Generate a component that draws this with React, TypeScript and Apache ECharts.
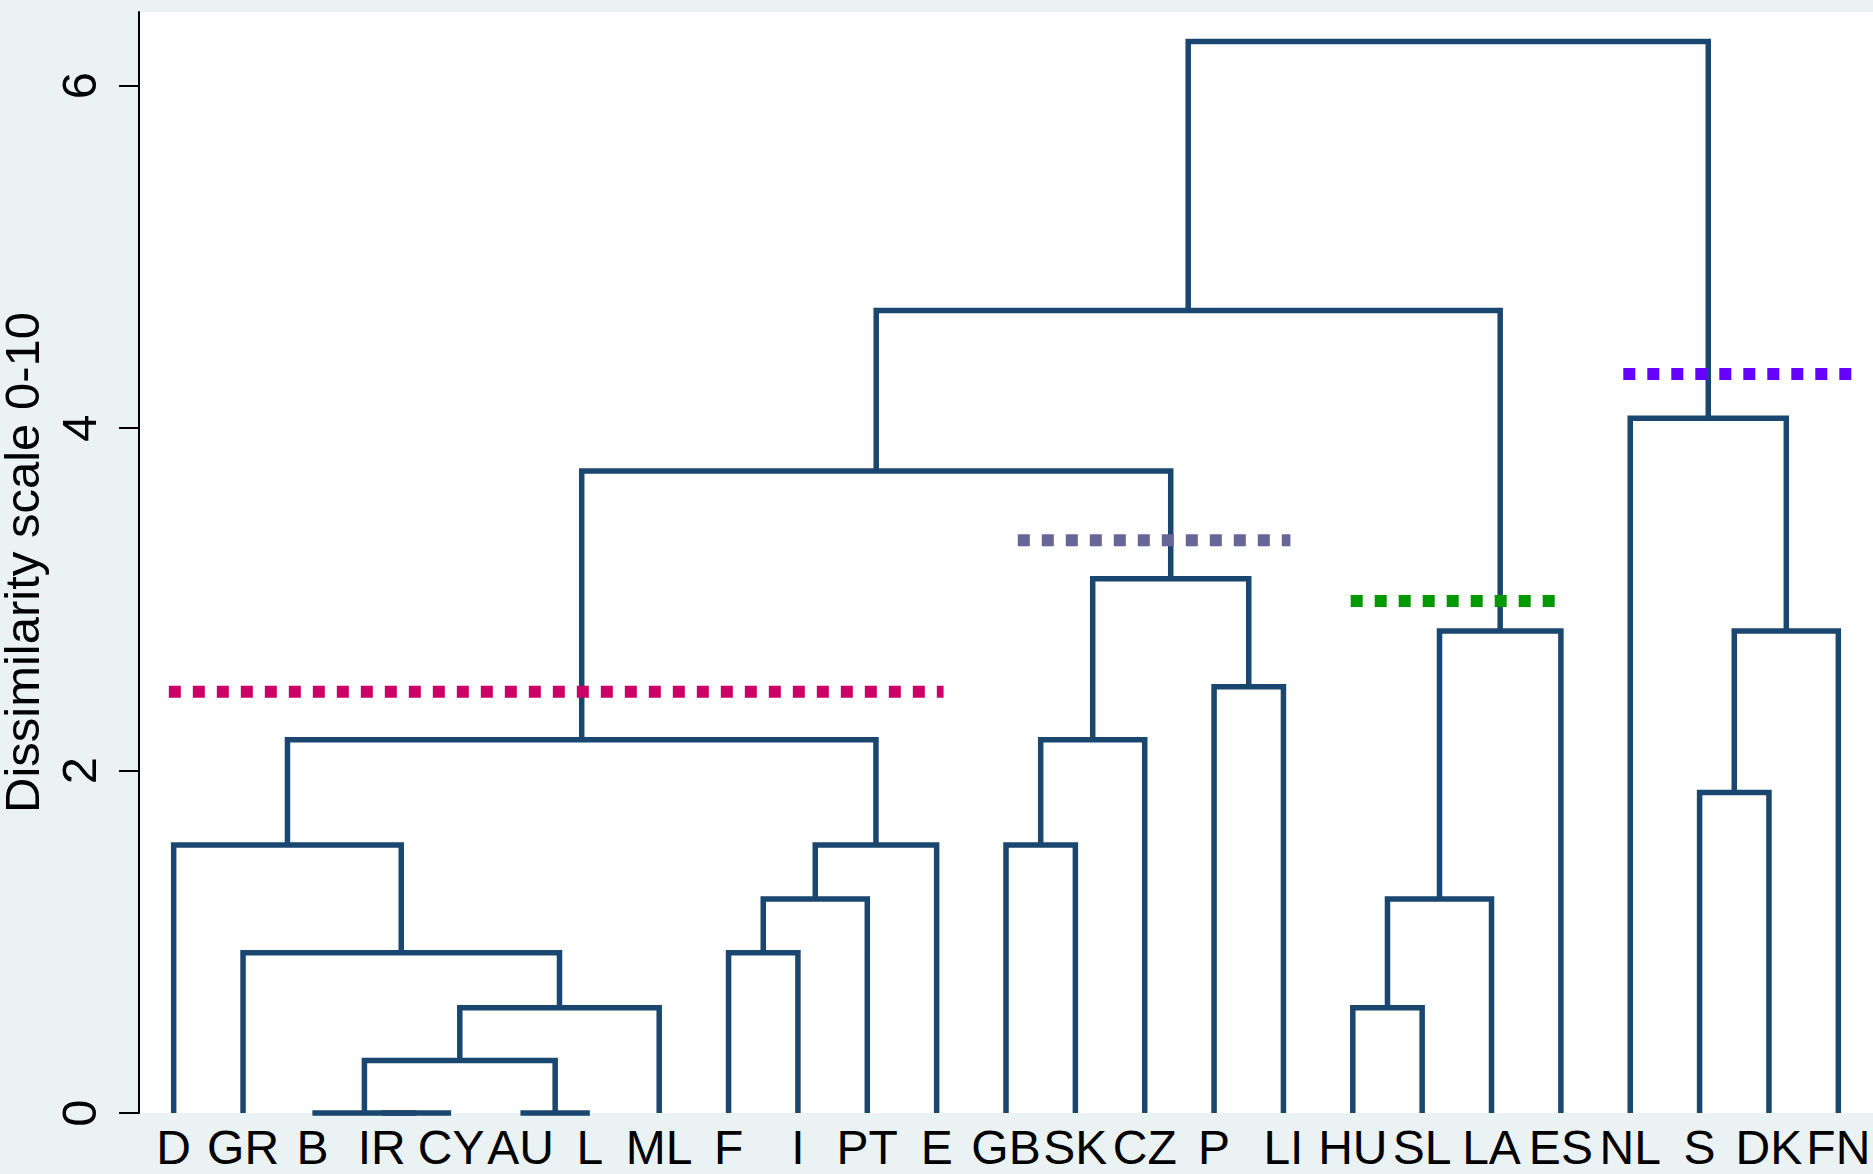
import React, { useEffect, useRef } from "react";
import * as echarts from "echarts";

// Leaf labels (left to right)
const leaves = ["D", "GR", "B", "IR", "CY", "AU", "L", "ML", "F", "I", "PT", "E", "GB", "SK", "CZ", "P", "LI", "HU", "SL", "LA", "ES", "NL", "S", "DK", "FN"];

// Merges: child ids (0..24 leaves, 25+k = k-th merge) and dissimilarity height
const mergeLeft = [3, 2, 5, 26, 28, 1, 0, 8, 32, 33, 31, 12, 36, 15, 37, 35, 17, 41, 42, 40, 22, 45, 21, 44];
const mergeRight = [4, 25, 6, 27, 7, 29, 30, 9, 10, 11, 34, 13, 14, 16, 38, 39, 18, 19, 20, 43, 23, 24, 46, 47];
const mergeHeight = [0, 0, 0, 0.307, 0.615, 0.936, 1.565, 0.936, 1.25, 1.565, 2.18, 1.565, 2.18, 2.49, 3.12, 3.75, 0.615, 1.25, 2.815, 4.687, 1.872, 2.815, 4.058, 6.258];

// Cut lines (dotted): height and span in leaf units
const cutHeight = [2.46, 3.345, 2.99, 4.316];
const cutFrom = [-0.07, 12.17, 16.97, 20.9];
const cutTo = [11.1, 16.1, 19.93, 24.2];
const cutColor = ["#CC0066", "#666699", "#009900", "#6600FF"];

const yTicks = { min: 0, max: 6.43, interval: 2 };

const FONT = "Liberation Sans, Arial, sans-serif";

export default function App() {
  const ref = useRef<HTMLDivElement>(null);
  useEffect(() => {
    if (!ref.current) return;
    const chart = echarts.init(ref.current, undefined, { renderer: "svg" });
    const n = leaves.length;
    const nodeX: number[] = leaves.map((_, i) => i);
    const nodeH: number[] = leaves.map(() => 0);
    const series: any[] = [];
    mergeHeight.forEach((h, k) => {
      const a = mergeLeft[k];
      const b = mergeRight[k];
      const xa = nodeX[a];
      const xb = nodeX[b];
      nodeX[n + k] = (xa + xb) / 2;
      nodeH[n + k] = h;
      series.push({
        type: "line",
        xAxisIndex: 1,
        symbol: "none",
        clip: false,
        silent: true,
        z: 2,
        lineStyle: { color: "#1A476F", width: 5.5, join: "miter", cap: "butt" },
        data: [
          [xa, nodeH[a]],
          [xa, h],
          [xb, h],
          [xb, nodeH[b]],
        ],
      });
    });
    cutHeight.forEach((h, i) => {
      series.push({
        type: "line",
        xAxisIndex: 1,
        symbol: "none",
        clip: false,
        silent: true,
        z: 3,
        lineStyle: { color: cutColor[i], width: 12, type: [12, 12], cap: "butt" },
        data: [
          [cutFrom[i], h],
          [cutTo[i], h],
        ],
      });
    });
    chart.setOption({
      animation: false,
      backgroundColor: "#EAF2F3",
      textStyle: { fontFamily: FONT },
      grid: {
        left: 139,
        right: 0,
        top: 12,
        bottom: 61,
        containLabel: false,
        outerBoundsMode: "none",
        show: true,
        backgroundColor: "#ffffff",
        borderWidth: 0,
      },
      xAxis: [
        {
          type: "category",
          data: leaves,
          boundaryGap: true,
          axisLine: { show: false },
          axisTick: { show: false },
          splitLine: { show: false },
          axisLabel: {
            interval: 0,
            hideOverlap: false,
            fontSize: 48,
            lineHeight: 44,
            color: "#000",
            margin: 12,
            fontFamily: FONT,
          },
        },
        {
          type: "value",
          min: -0.5,
          max: leaves.length - 0.5,
          show: false,
        },
      ],
      yAxis: {
        type: "value",
        min: yTicks.min,
        max: yTicks.max,
        interval: yTicks.interval,
        name: "Dissimilarity scale 0-10",
        nameLocation: "middle",
        nameRotate: 90,
        nameGap: 86,
        nameTextStyle: { fontSize: 49, lineHeight: 40, color: "#000", fontFamily: FONT },
        axisLine: { show: true, onZero: false, lineStyle: { color: "#000", width: 2 } },
        axisTick: { show: true, length: 20, lineStyle: { color: "#000", width: 2 } },
        splitLine: { show: false },
        axisLabel: {
          rotate: 90,
          fontSize: 49,
          color: "#000",
          margin: 36,
          showMaxLabel: false,
          formatter: (v: number) => (v % 2 === 0 ? String(v) : ""),
          fontFamily: FONT,
        },
      },
      series,
    });
    return () => chart.dispose();
  }, []);
  return (
    <div
      ref={ref}
      style={{ position: "fixed", left: 0, top: 0, width: 1873, height: 1174 }}
    />
  );
}
